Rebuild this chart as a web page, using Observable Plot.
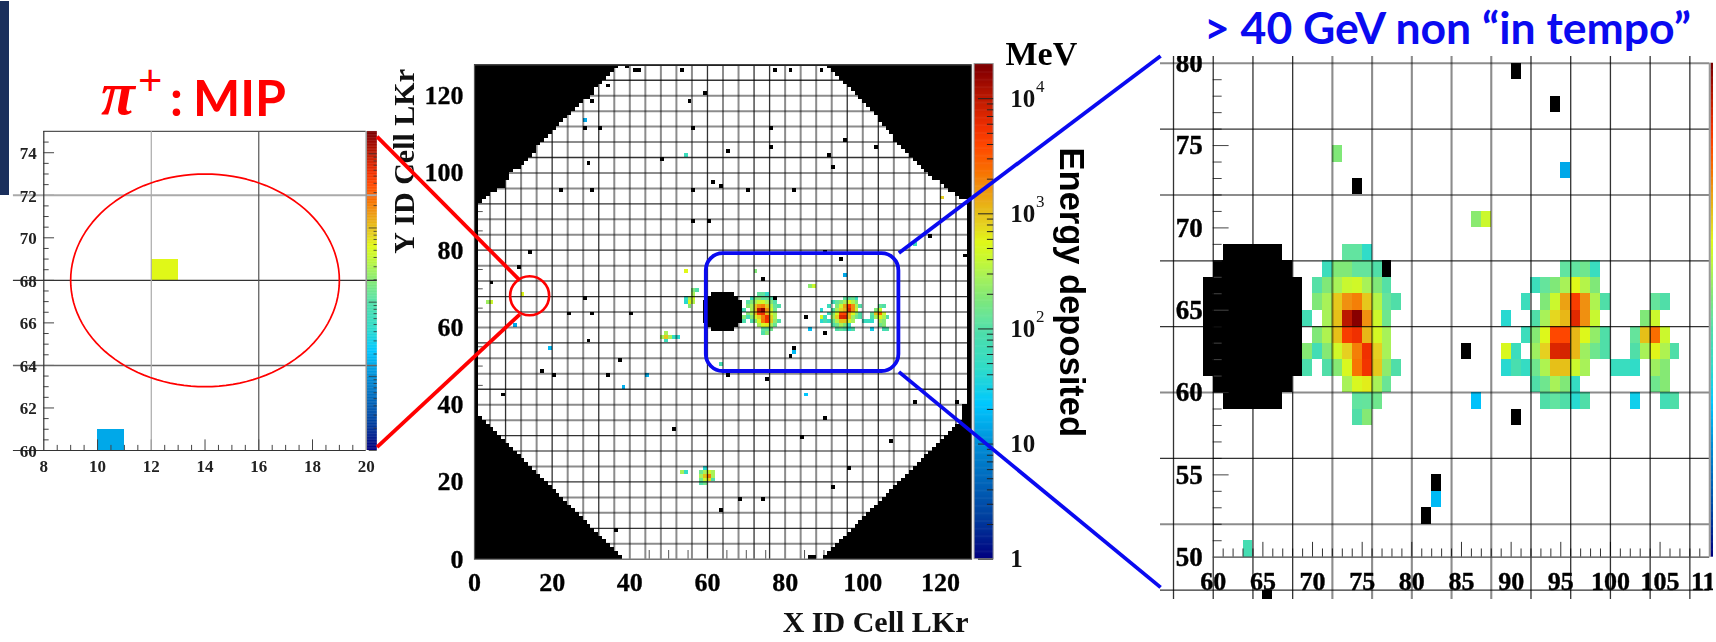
<!DOCTYPE html>
<html><head><meta charset="utf-8">
<script src="https://cdn.jsdelivr.net/npm/d3@7"></script>
<script src="https://cdn.jsdelivr.net/npm/@observablehq/plot@0.6"></script>
<style>
html,body{margin:0;padding:0;background:#fff}
#page{position:relative;width:1716px;height:642px;overflow:hidden;background:#fff}
.abs{position:absolute;white-space:nowrap}
.plotbox{position:absolute;filter:blur(0.4px)}
.plotbox svg{display:block}
</style></head><body><div id="page"></div>
<script>
// ---------- colour key: energy (MeV) -> colour ----------
const energyStops=[1,2.3,10,22,45,95,115,180,280,400,560,800,1000,1700,2300,3800,5500,10000,17000,20000];
const colorStops=["#00007f","#00409f","#0090d8","#00c8ff","#30dcc8","#50dea8","#62e4a0","#80e878","#a8f258","#c8f830","#e0f818","#e6d020","#e6c018","#f09010","#f87000","#ff4800","#f03000","#bb1800","#880000","#7a0000"];
const barTop=20000;
const barTicks=[1,2,3,4,5,6,7,8,9,10,20,30,40,50,60,70,80,90,100,200,300,400,500,600,700,800,900,1000,2000,3000,4000,5000,6000,7000,8000,9000,10000];
const barDecades=[1,10,100,1000,10000];
const barLabels=["1","10","10","10","10"];
const barExponents=["","","2","3","4"];

// ---------- cells shown in the zoomed window: [v, first u, energies...] ----------
const focusRows=[
[68,73,[115,115,45]],[67,71,[60,180,180,120,120,95]],[66,70,[100,180,280,400,450,280,180,100]],
[65,70,[180,280,900,1700,2000,900,320,120,95]],[64,69,[70,null,280,1000,10000,17000,1700,430,140]],
[63,70,[180,300,1000,4500,5500,1100,470,280]],[62,69,[190,70,190,450,800,2000,5500,800,280]],
[61,69,[85,null,95,190,500,2200,5200,900,210,95]],[60,73,[280,500,620,280,130]],[59,74,[115,120,140]],[58,74,[95,190]],
[67,95,[115,115,140,55]],[66,92,[60,120,180,280,560,320,180]],[65,91,[60,null,180,420,1400,4500,1700,300,95]],
[64,89,[40]],[64,92,[95,280,750,1100,6500,1700,400]],[64,103,[180,420]],[65,104,[120,95]],
[63,91,[60,190,540,3800,3900,1100,540,220,95]],[63,102,[120,1000,2400,420]],
[62,89,[500,60,null,250,800,7000,7500,1100,250,140,95]],[62,102,[95,280,580,300,95]],
[61,89,[40,80,50,140,300,1000,1000,420,280]],[61,100,[55,55,45]],[61,104,[250,190]],
[60,92,[95,140,280,180,50]],[60,104,[140,190]],[59,86,[20]],[59,93,[95,115,95,40,95]],[59,102,[28]],[59,105,[70,95]],
[74,72,[180]],[73,95,[14]],[70,86,[200,420]],[50,63,[75]],[53,82,[18]]];
const focusDead=[[77,67],[74,72],[90,79],[94,77],[85,62],[90,58],[82,54],[81,52],[65,47]];
// black blob near the beam pipe: [v, first u, last u]
const blobRows=[[68,61,66],[67,60,67],[66,59,68],[65,59,68],[64,59,68],[63,59,68],[62,59,68],[61,59,68],[60,60,67],[59,61,66]];

// ---------- rest of the full-detector map ----------
const otherCells=[[28,113,14],[54,104,60],[3,66,250],[4,66,420],[12,68,560],[10,60,14],[54,74,560],
[56,69,180],[57,69,95],[56,68,280],[55,67,280],[56,67,420],[54,67,50],[54,66,40],[55,66,560],[56,66,320],[55,65,180],
[49,58,280],[48,57,280],[49,57,900],[50,57,280],[51,57,50],[52,57,40],[49,56,60],
[19,54,18],[44,47,16],[38,44,16],[85,42,22],[120,93,800],[113,81,60],
[59,23,40],[58,22,140],[59,22,280],[60,22,450],[61,22,280],[58,21,280],[59,21,1000],[60,21,2000],[61,21,280],
[58,20,140],[59,20,420],[60,20,700],[61,20,95],[58,19,95],[59,19,140],[53,22,280],[54,22,50]];
const otherDead=[[14,79],[11,75],[4,71],[28,67],[24,63],[30,63],[40,63],[29,102],[22,95],[30,95],[56,95],[61,97],[63,96],
[56,87],[60,87],[48,103],[65,105],[28,111],[32,111],[56,111],[34,122],[30,118],[55,118],[59,120],
[29,56],[17,48],[20,47],[34,47],[37,51],[7,42],[51,33],[63,12],[36,7],[65,47],[68,15],
[76,111],[95,108],[76,106],[103,106],[91,104],[92,101],[70,95],[82,95],[117,83],[126,78],
[75,46],[113,40],[124,40],[90,36],[84,31],[107,30],[96,23],[92,18],[74,15],
[39,127],[41,126],[42,126],[53,126],[77,126],[81,126],[89,126],[86,0],[87,0]];

// ---------- detector outline: black corners, row by row ----------
const topLeftFirstRow=91;
const topLeftWidths=[1,2,3,4,6,8,8,9,9,10,12,13,14,15,16,16,17,18,19,20,21,22,23,24,25,26,27,28,30,31,31,32,33,34,35,36,37];
const bottomLeftWidths=[38,37,36,35,34,33,32,31,30,29,28,27,26,25,24,23,22,21,20,19,18,17,16,15,14,13,12,11,10,9,8,7,6,5,4,3,2,1];
const topRightFirstRow=93;
const topRightStarts=[125,124,122,121,120,118,117,116,115,114,113,112,111,110,109,108,108,107,106,105,104,104,103,102,101,100,99,98,97,96,95,94,93,92,91];
const bottomRightStarts=[90,91,92,93,94,95,96,97,98,99,100,101,102,103,104,105,106,107,108,109,110,111,112,113,114,115,116,117,118,119,120,121,122,123,124,125];
const outlineStrips=[[0,1,37,92],[127,128,40,94],[125.6,128,35,40],[37,91,127.5,128]];

// ---------- gridlines of the three panels ----------
const mapDarkX=[8,20,32,60,72,76,96,104,120,124];
const mapGrayX=[4,12,16,24,28,36,40,44,48,52,56,64,68,80,84,88,92,100,108,112,116];
const mapDarkY=[8,20,32,44,56,68,80,92,104,124];
const mapGrayY=[4,12,16,24,28,36,40,48,52,60,64,72,76,84,88,96,100,108,112,116,120];
const mapTicksX=[5,10,15,25,30,35,45,50,55,65,70,75,85,90,95,105,110,115,125];
const mapTicksY=[5,10,15,25,30,35,45,50,55,65,70,75,85,90,95,105,110,115,125];
const mapLabels=[0,20,40,60,80,100,120];

const focusDarkX=[56,60,64,68,92,96,100,104,108];
const focusGrayX=[72,76,80,84,88];
const focusDarkY=[76,68,64,56,48];
const focusGrayY=[80,72,60,52];
const focusLabelsX=[60,65,70,75,80,85,90,95,100,105,110];
const focusLabelsY=[50,55,60,65,70,75,80];
const focusMinorX=d3.range(61,110);
const focusMinorY=d3.range(51,80);

const mipCells=[[12,68,560],[10,60,14]];
const mipDead=[[11,12,74.93,75]];
const mipLabelsX=[8,10,12,14,16,18,20];
const mipLabelsY=[60,62,64,66,68,70,72,74];
const mipMinorX=d3.range(8.5,20,0.5);
const mipMinorY=d3.range(60.5,75,0.5);

// ---------- call-out annotations, in units of the central map ----------
const redLinks=[[11.67,72.2,-25.1,109.4],[11.67,63.4,-25.1,29.0]];
const redCircle=[14.2,68.2];
const blueLinks=[[109.3,79.3,176.7,130.3],[109.3,48.5,176.7,-7.3]];
const blueBox=[59.7,109.3,48.6,79.1];

const colorOpts={type:"log",domain:energyStops,range:colorStops,clamp:true};
const serif={fontFamily:"Liberation Serif",fontWeight:"bold"};
const expand=rows=>rows.flatMap(([v,u0,es])=>es.map((e,i)=>({u:u0+i,v,e})).filter(d=>d.e!=null));
const cellRect=(data)=>Plot.rect(data,{x1:d=>d.u,x2:d=>d.u+1,y1:d=>d.v,y2:d=>d.v+1,fill:d=>d.e,shapeRendering:"crispEdges"});
const deadRect=(data)=>Plot.rect(data,{x1:d=>d[0],x2:d=>d[0]+1,y1:d=>d[1],y2:d=>d[1]+1,fill:"#000",shapeRendering:"crispEdges"});
const blackBox=(data)=>Plot.rect(data,{x1:d=>d[0],x2:d=>d[1],y1:d=>d[2],y2:d=>d[3],fill:"#000",shapeRendering:"crispEdges"});
const ramp=d3.range(0,430).map(i=>i/100);
const rampMarks=(x1,x2,y0,y1)=>{
  const Y=l=>y0+(y1-y0)*l/Math.log10(barTop);
  return Plot.rect(ramp,{x1:()=>x1,x2:()=>x2,y1:l=>Y(l),y2:l=>Y(Math.min(l+0.015,Math.log10(barTop))),fill:l=>10**l});
};
const logY=(e,y0,y1)=>y0+(y1-y0)*Math.log10(e)/Math.log10(barTop);

const page=document.getElementById("page");
function place(svg,left,top){const d=document.createElement("div");d.className="plotbox";d.style.left=left+"px";d.style.top=top+"px";d.appendChild(svg);page.appendChild(d);}
function label(html,style){const d=document.createElement("div");d.className="abs";d.innerHTML=html;Object.assign(d.style,style);page.appendChild(d);}

// ---------- navy bar at the slide edge ----------
label("",{left:"0",top:"1px",width:"9px",height:"194px",background:"#1a2f5c"});

// ---------- left panel: pi+ MIP ----------
place(Plot.plot({
  width:378,height:355,marginTop:0,marginRight:0,marginBottom:0,marginLeft:0,
  style:{background:"transparent"},
  x:{axis:null,domain:[6.389,20.456]},y:{axis:null,domain:[58.59,75.28]},color:colorOpts,
  marks:[
    cellRect(mipCells.map(([u,v,e])=>({u,v,e}))),
    blackBox(mipDead),
    rampMarks(20.04,20.41,60,75),
    Plot.ruleX(mipMinorX,{x:d=>d,y1:()=>60,y2:d=>60+(d%2==0?0.5:0.24),stroke:"#444",strokeWidth:1}),
    Plot.ruleY(mipMinorY,{y:d=>d,x1:()=>8,x2:d=>8+(d%2==0?0.4:0.2),stroke:"#444",strokeWidth:1}),
    Plot.ruleY(barTicks,{y:e=>logY(e,60,75),x1:()=>20.41,x2:e=>20.41-(barDecades.includes(e)?0.3:0.12),stroke:"#333",strokeWidth:0.8}),
    Plot.ruleY([72],{x1:()=>6.87,x2:()=>20.41,stroke:"#aaa",strokeWidth:1.8}),
    Plot.ruleY([68],{x1:()=>6.87,x2:()=>20.41,stroke:"#333",strokeWidth:1.2}),
    Plot.ruleY([64],{x1:()=>6.87,x2:()=>20.41,stroke:"#666",strokeWidth:1.6}),
    Plot.ruleY([60],{x1:()=>6.87,x2:()=>20,stroke:"#333",strokeWidth:1.2}),
    Plot.ruleY([75],{x1:()=>8,x2:()=>20,stroke:"#555",strokeWidth:1.2}),
    Plot.ruleX([8],{y1:()=>60,y2:()=>75,stroke:"#333",strokeWidth:1.2}),
    Plot.ruleX([12],{y1:()=>60,y2:()=>75,stroke:"#aaa",strokeWidth:1.2}),
    Plot.ruleX([16],{y1:()=>60,y2:()=>75,stroke:"#555",strokeWidth:1.2}),
    Plot.ruleX([20],{y1:()=>60,y2:()=>75,stroke:"#999",strokeWidth:1.6}),
    Plot.line(d3.range(0,361,3),{x:a=>14+5*Math.cos(a*Math.PI/180),y:a=>68+5*Math.sin(a*Math.PI/180),stroke:"#f00",strokeWidth:1.7}),
    Plot.text(mipLabelsX,{x:d=>d,y:()=>60,dy:16,text:d=>String(d),fontSize:17,fill:"#222",...serif}),
    Plot.text(mipLabelsY,{x:()=>8,y:d=>d,dx:-7,dy:1,text:d=>String(d),textAnchor:"end",fontSize:17,fill:"#222",...serif})
  ]}),0,125);

// ---------- right panel: zoomed window ----------
place(Plot.plot({
  width:553,height:543,marginTop:0,marginRight:0,marginBottom:0,marginLeft:0,
  style:{background:"transparent"},
  x:{axis:null,domain:[54.69,110.38]},y:{axis:null,domain:[47.43,80.41]},color:colorOpts,
  marks:[
    cellRect(expand(focusRows)),
    deadRect(focusDead),
    blackBox(blobRows.map(([v,a,b])=>[a,b+1,v,v+1])),
    rampMarks(110.13,110.38,50,80),
    Plot.ruleX(focusMinorX,{x:d=>d,y1:()=>50,y2:d=>50+(d%5==0?0.9:0.5),stroke:"#333",strokeWidth:1}),
    Plot.ruleY(focusMinorY,{y:d=>d,x1:()=>60,x2:d=>60+(d%5==0?1.6:0.9),stroke:"#444",strokeWidth:1}),
    Plot.text(focusLabelsX,{x:d=>d,y:()=>50,dy:24,text:d=>String(d),fontSize:26,fill:"#000",stroke:"#000",strokeWidth:0.4,...serif}),
    Plot.text(focusLabelsY,{x:()=>60,y:d=>d,dx:-10.4,text:d=>String(d),textAnchor:"end",fontSize:27,fill:"#000",stroke:"#000",strokeWidth:0.4,...serif}),
    Plot.ruleX(focusGrayX,{stroke:"#8c8c8c",strokeWidth:2.1,mixBlendMode:"multiply"}),
    Plot.ruleX(focusDarkX,{stroke:"#333",strokeWidth:1.3,mixBlendMode:"multiply"}),
    Plot.ruleY(focusGrayY,{x1:()=>54.69,x2:()=>110,stroke:"#8c8c8c",strokeWidth:2,mixBlendMode:"multiply"}),
    Plot.ruleY(focusDarkY,{x1:()=>54.69,x2:()=>110,stroke:"#333",strokeWidth:1.3,mixBlendMode:"multiply"}),
    Plot.ruleY([50],{x1:()=>60,x2:()=>110,stroke:"#444",strokeWidth:1.2}),
    Plot.ruleX([110],{y1:()=>50,y2:()=>80,stroke:"#999",strokeWidth:2})
  ]}),1160,56);

// ---------- central panel: full detector map plus the call-outs (page-wide SVG) ----------
const mask=[
  ...topLeftWidths.map((w,i)=>[0,w,topLeftFirstRow+i,topLeftFirstRow+i+1]),
  ...bottomLeftWidths.map((w,i)=>[0,w,i,i+1]),
  ...topRightStarts.map((s,i)=>[s,128,topRightFirstRow+i,topRightFirstRow+i+1]),
  ...bottomRightStarts.map((s,i)=>[s,128,i,i+1]),
  ...outlineStrips,
  ...blobRows.map(([v,a,b])=>[a,b+1,v,v+1])
];
const allCells=[...expand(focusRows),...otherCells.map(([u,v,e])=>({u,v,e}))];
const bx1=128.8,bx2=133.7;
place(Plot.plot({
  width:1716,height:642,marginLeft:474,marginRight:745,marginTop:64.3,marginBottom:83.3,
  style:{background:"transparent"},
  x:{axis:null,domain:[0,128]},y:{axis:null,domain:[0,128]},color:colorOpts,
  marks:[
    cellRect(allCells),
    deadRect([...focusDead,...otherDead]),
    blackBox(mask),
    Plot.ruleX(mapGrayX,{stroke:"#8c8c8c",strokeWidth:2,mixBlendMode:"multiply"}),
    Plot.ruleX(mapDarkX,{stroke:"#333",strokeWidth:1.3,mixBlendMode:"multiply"}),
    Plot.ruleY(mapGrayY,{x1:()=>0,x2:()=>128,stroke:"#8c8c8c",strokeWidth:2,mixBlendMode:"multiply"}),
    Plot.ruleY(mapDarkY,{x1:()=>0,x2:()=>128,stroke:"#333",strokeWidth:1.3,mixBlendMode:"multiply"}),
    Plot.ruleX(mapTicksX,{y1:()=>0,y2:()=>2.25,stroke:"#555",strokeWidth:1,mixBlendMode:"multiply"}),
    Plot.ruleY(mapTicksY,{x1:()=>0,x2:()=>2.25,stroke:"#555",strokeWidth:1,mixBlendMode:"multiply"}),
    Plot.frame({stroke:"#555",strokeWidth:1.2}),
    Plot.text(mapLabels,{x:d=>d,y:()=>0,dy:23,text:d=>String(d),fontSize:26,fill:"#000",stroke:"#000",strokeWidth:0.3,...serif}),
    Plot.text(mapLabels,{x:()=>0,y:d=>d,dx:-11,text:d=>String(d),textAnchor:"end",fontSize:26,fill:"#000",stroke:"#000",strokeWidth:0.3,...serif}),
    Plot.text(["X ID Cell LKr"],{x:()=>103.3,y:()=>-16.4,text:d=>d,fontSize:30,fill:"#111",...serif}),
    Plot.text(["Y ID Cell LKr"],{x:()=>-18,y:()=>103,text:d=>d,rotate:-90,fontSize:30,fill:"#111",...serif}),
    // colour bar
    rampMarks(bx1,bx2,0,128.2),
    Plot.rect([0],{x1:()=>bx1,x2:()=>bx2,y1:()=>0,y2:()=>128.2,stroke:"#999",strokeWidth:1,fill:"none"}),
    Plot.ruleY(barTicks,{y:e=>logY(e,0,128.2),x1:()=>bx2,x2:e=>bx2-(barDecades.includes(e)?3.9:1.6),stroke:"#222",strokeWidth:1}),
    Plot.text(barDecades,{x:()=>138,y:e=>logY(e,0,128.2),text:(e,i)=>barLabels[i],textAnchor:"start",fontSize:25,fill:"#111",...serif}),
    Plot.text(barDecades,{x:()=>144.6,y:e=>logY(e,0,128.2),dy:-12,text:(e,i)=>barExponents[i],textAnchor:"start",fontSize:17,fill:"#111",fontFamily:"Liberation Serif"}),
    Plot.text(["MeV"],{x:()=>146,y:()=>130.8,text:d=>d,fontSize:34,fill:"#000",...serif}),
    Plot.text(["Energy deposited"],{x:()=>153.7,y:()=>69.1,text:d=>d,rotate:90,fontSize:34.5,fontWeight:"bold",fontFamily:"Liberation Sans",fill:"#000"}),
    // call-outs
    Plot.rect([blueBox],{x1:d=>d[0],x2:d=>d[1],y1:d=>d[2],y2:d=>d[3],rx:17,fill:"none",stroke:"#0a0af0",strokeWidth:3.8}),
    Plot.link(blueLinks,{x1:d=>d[0],y1:d=>d[1],x2:d=>d[2],y2:d=>d[3],stroke:"#0a0af0",strokeWidth:3.8}),
    Plot.link(redLinks,{x1:d=>d[0],y1:d=>d[1],x2:d=>d[2],y2:d=>d[3],stroke:"#f00",strokeWidth:3.8}),
    Plot.dot([redCircle],{x:d=>d[0],y:d=>d[1],r:19.5,stroke:"#f00",strokeWidth:2.6,fill:"none"})
  ]}),0,0);

// ---------- slide titles ----------
label("&#960;",{left:"101px",top:"62px",font:"italic bold 62px 'Liberation Serif'",color:"#f00",lineHeight:"62px"});
label("+",{left:"138px",top:"58px",font:"400 42px 'Lato'",color:"#f00",lineHeight:"42px"});
label(": MIP",{left:"170px",top:"69px",font:"700 50px 'Lato'",color:"#f00",lineHeight:"56px",wordSpacing:"-2px"});
label("&gt; 40 GeV non &ldquo;in tempo&rdquo;",{left:"1204px",top:"5px",font:"700 44.5px 'Lato'",color:"#0a0af0",lineHeight:"44px"});
</script></body></html>
